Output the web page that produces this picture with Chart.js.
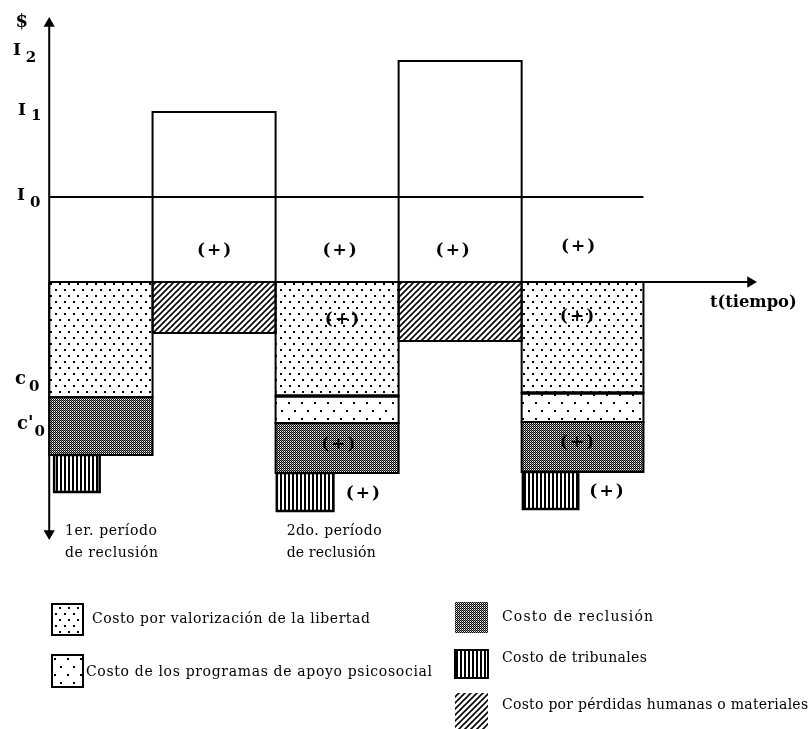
<!DOCTYPE html>
<html>
<head>
<meta charset="utf-8">
<script src="https://cdn.jsdelivr.net/npm/chart.js@4.4.0/dist/chart.umd.min.js"></script>
<style>
html,body{margin:0;padding:0;background:#fff}
#caja{width:812px;height:729px;position:relative}
</style>
</head>
<body>
<div id="caja"><canvas id="grafico"></canvas></div>
<script>

// limites de los tramos sobre el eje t(tiempo)
const limitesT=[0,8.4,18.4,28.4,38.4,48.3]

// ingresos ($) por tramo, sobre el eje
const ingresos=[0,17.0,0,22.1,0]
const nivelI0=8.5

// costos por tramo, se apilan hacia abajo desde el eje
const costoLibertad=[11.5,0,11.4,0,11.1]
const costoPsicosocial=[0,0,2.7,0,2.9]
const costoReclusion=[5.8,0,5.0,0,5.0]
const costoTribunales=[3.7,0,3.8,0,3.7]
const costoPerdidas=[0,5.1,0,5.9,0]

// el costo de tribunales solo ocupa parte del tramo
const tribunalesDesde=[0.4,0,18.5,0,38.5]
const tribunalesHasta=[4.1,0,23.1,0,43.0]

const leyenda=[
{texto:'Costo por valorización de la libertad',patron:'libertad'},
{texto:'Costo de los programas de apoyo psicosocial',patron:'psicosocial'},
{texto:'Costo de reclusión',patron:'reclusion'},
{texto:'Costo de tribunales',patron:'tribunales'},
{texto:'Costo por pérdidas humanas o materiales',patron:'perdidas'}
]

// textos sobre el grafico (posiciones en unidades de los ejes)
const etiquetasEje=[
{texto:'$',t:-2.75,v:26.0,tam:18},
{texto:'I',sub:'2',t:-2.95,v:23.1,tam:17,dx:5,dy:7},
{texto:'I',sub:'1',t:-2.54,v:17.1,tam:17,dx:5,dy:5},
{texto:'I',sub:'0',t:-2.62,v:8.6,tam:17,dx:5,dy:7},
{texto:'c',sub:'0',t:-2.78,v:-9.7,tam:18,dx:3,dy:8},
{texto:"c'",sub:'0',t:-2.62,v:-14.2,tam:18,dx:1,dy:8}
]
const signos=[
{t:13.4,v:3.1},{t:23.6,v:3.1},{t:32.8,v:3.1},{t:43.0,v:3.5},
{t:23.8,v:-3.8},{t:23.5,v:-16.3},{t:25.5,v:-21.2},
{t:42.9,v:-3.5},{t:42.9,v:-16.1},{t:45.3,v:-21.0}
]
const etiquetasPeriodo=[
{texto:'1er. período',t:1.28,v:-24.9,ancho:92},
{texto:'de reclusión',t:1.28,v:-27.1,ancho:93},
{texto:'2do. período',t:19.3,v:-24.9,ancho:95},
{texto:'de reclusión',t:19.3,v:-27.1,ancho:89}
]

const serif='"DejaVu Serif","Liberation Serif",serif'

let canvas=document.getElementById('grafico')
let ctxPrincipal=canvas.getContext('2d')

function crearPatron(tipo){

let c=document.createElement('canvas')
let g=c.getContext('2d')

if(tipo==='libertad'){
c.width=9;c.height=12
g.fillStyle='#fff';g.fillRect(0,0,9,12)
g.fillStyle='#000'
g.fillRect(1,1,2,2);g.fillRect(5,7,2,2)
}else if(tipo==='psicosocial'){
c.width=13;c.height=16
g.fillStyle='#fff';g.fillRect(0,0,13,16)
g.fillStyle='#000'
g.fillRect(2,2,2,2);g.fillRect(8,10,2,2)
}else if(tipo==='reclusion'){
c.width=2;c.height=2
g.fillStyle='#fff';g.fillRect(0,0,2,2)
g.fillStyle='#000';g.fillRect(0,0,1,1);g.fillRect(1,1,1,1)
g.fillStyle='#888';g.fillRect(1,0,1,1)
}else if(tipo==='tribunales'){
c.width=4;c.height=1
g.fillStyle='#fff';g.fillRect(0,0,4,1)
g.fillStyle='#000';g.fillRect(0,0,2,1)
}else{
c.width=6;c.height=6
g.fillStyle='#fff';g.fillRect(0,0,6,6)
g.strokeStyle='#000';g.lineWidth=1.6
g.beginPath()
g.moveTo(-1,7);g.lineTo(7,-1)
g.moveTo(-4,4);g.lineTo(4,-4)
g.moveTo(2,10);g.lineTo(10,2)
g.stroke()
}

return ctxPrincipal.createPattern(c,'repeat')

}

let patrones={}
;['libertad','psicosocial','reclusion','tribunales','perdidas'].forEach(p=>{
patrones[p]=crearPatron(p)
})

let conjuntos=[]

function contorno(puntos,ancho){
conjuntos.push({
data:puntos,
fill:false,
borderColor:'#000',
borderWidth:ancho,
pointRadius:0,
borderJoinStyle:'miter',
order:2
})
}

function rectangulo(x0,x1,arriba,abajo,patron,ancho){
if(patron){
conjuntos.push({
data:[{x:x0,y:arriba},{x:x1,y:arriba}],
fill:{value:abajo},
backgroundColor:patron,
borderColor:'transparent',
showLine:false,
pointRadius:0,
order:3
})
}
contorno([
{x:x0,y:arriba},{x:x1,y:arriba},{x:x1,y:abajo},{x:x0,y:abajo},{x:x0,y:arriba},{x:x1,y:arriba}
],ancho)
}

for(let i=0;i<limitesT.length-1;i++){

let x0=limitesT[i]
let x1=limitesT[i+1]

if(ingresos[i]>0){
rectangulo(x0,x1,ingresos[i],0,null,2)
}

if(costoPerdidas[i]>0){
rectangulo(x0,x1,0,-costoPerdidas[i],patrones.perdidas,2)
}

let nivel=0

if(costoLibertad[i]>0){
rectangulo(x0,x1,nivel,nivel-costoLibertad[i],patrones.libertad,2)
nivel-=costoLibertad[i]
}

if(costoPsicosocial[i]>0){
rectangulo(x0,x1,nivel,nivel-costoPsicosocial[i],patrones.psicosocial,2)
contorno([{x:x0,y:nivel},{x:x1,y:nivel}],3.5)
nivel-=costoPsicosocial[i]
}

if(costoReclusion[i]>0){
rectangulo(x0,x1,nivel,nivel-costoReclusion[i],patrones.reclusion,2)
nivel-=costoReclusion[i]
}

if(costoTribunales[i]>0){
rectangulo(tribunalesDesde[i],tribunalesHasta[i],nivel,nivel-costoTribunales[i],patrones.tribunales,2.5)
}

}

// linea I0
contorno([{x:0,y:nivelI0},{x:limitesT[limitesT.length-1],y:nivelI0}],2)

// ejes con flechas
conjuntos.push({
data:[{x:0,y:-25.15},{x:0,y:25.85}],
borderColor:'#000',
borderWidth:2,
fill:false,
pointStyle:'triangle',
pointRadius:6.5,
pointRotation:[180,0],
pointBackgroundColor:'#000',
pointBorderColor:'#000',
pointBorderWidth:0,
order:1
})
conjuntos.push({
data:[{x:0,y:0},{x:57.0,y:0}],
borderColor:'#000',
borderWidth:2,
fill:false,
pointStyle:'triangle',
pointRadius:[0,6.5],
pointRotation:90,
pointBackgroundColor:'#000',
pointBorderColor:'#000',
pointBorderWidth:0,
order:1
})

function ajustar(ctx,texto,peso,ancho){
ctx.font=`${peso} 20px ${serif}`
let w=ctx.measureText(texto).width
ctx.font=`${peso} ${(20*ancho/w).toFixed(2)}px ${serif}`
}

// tamaño fijo, el ancho se ajusta con el espaciado entre letras
function espaciar(ctx,texto,font,ancho){
ctx.font=font
try{ctx.letterSpacing='0px'}catch(err){}
let w=ctx.measureText(texto).width
let extra=(ancho-w)/Math.max(1,texto.length-1)
try{ctx.letterSpacing=extra.toFixed(2)+'px'}catch(err){}
}

const textos={
id:'textos',
afterDatasetsDraw(chart){

let{ctx,scales:{x,y}}=chart

ctx.save()
ctx.fillStyle='#000'
ctx.textBaseline='middle'
ctx.textAlign='left'

etiquetasEje.forEach(e=>{
let px=x.getPixelForValue(e.t)
let py=y.getPixelForValue(e.v)
ctx.font=`bold ${e.tam}px ${serif}`
ctx.fillText(e.texto,px,py)
if(e.sub){
let w=ctx.measureText(e.texto).width
ctx.font=`bold 15px ${serif}`
ctx.fillText(e.sub,px+w+e.dx,py+e.dy)
}
})

ctx.textAlign='center'
ctx.font=`bold 17px ${serif}`
try{ctx.letterSpacing='2px'}catch(err){}
signos.forEach(s=>{
ctx.fillText('(+)',x.getPixelForValue(s.t)+1,y.getPixelForValue(s.v))
})
try{ctx.letterSpacing='0px'}catch(err){}

ctx.textAlign='left'
ajustar(ctx,'t(tiempo)','bold',87)
ctx.fillText('t(tiempo)',x.getPixelForValue(53.7),y.getPixelForValue(-2.1))

etiquetasPeriodo.forEach(e=>{
espaciar(ctx,e.texto,`normal 14px ${serif}`,e.ancho)
ctx.fillText(e.texto,x.getPixelForValue(e.t),y.getPixelForValue(e.v))
})

// leyenda
const cajas=[
{x:52,y:604,w:31,h:31,tx:92,ty:619,ancho:278,borde:true},
{x:52,y:655,w:31,h:32,tx:86,ty:672,ancho:346,borde:true},
{x:455,y:602,w:33,h:31,tx:502,ty:617,ancho:151,borde:false},
{x:455,y:650,w:33,h:28,tx:502,ty:658,ancho:145,borde:true},
{x:455,y:693,w:33,h:36,tx:502,ty:705,ancho:306,borde:false}
]

leyenda.forEach((l,i)=>{
let c=cajas[i]
try{ctx.letterSpacing='0px'}catch(err){}
ctx.fillStyle=patrones[l.patron]
ctx.fillRect(c.x,c.y,c.w,c.h)
if(c.borde){
ctx.strokeStyle='#000'
ctx.lineWidth=2
ctx.strokeRect(c.x,c.y,c.w,c.h)
}
ctx.fillStyle='#000'
espaciar(ctx,l.texto,`normal 14px ${serif}`,c.ancho)
ctx.fillText(l.texto,c.tx,c.ty)
})

ctx.restore()

}
}

new Chart(canvas,{
type:'line',
data:{datasets:conjuntos},
options:{
responsive:true,
maintainAspectRatio:false,
animation:false,
events:[],
layout:{padding:0,autoPadding:false},
elements:{line:{tension:0}},
plugins:{
legend:{display:false},
tooltip:{enabled:false},
title:{display:false}
},
scales:{
x:{type:'linear',min:-4,max:62,display:false},
y:{type:'linear',min:-44.7,max:28.2,display:false}
}
},
plugins:[textos]
})

</script>
</body>
</html>
